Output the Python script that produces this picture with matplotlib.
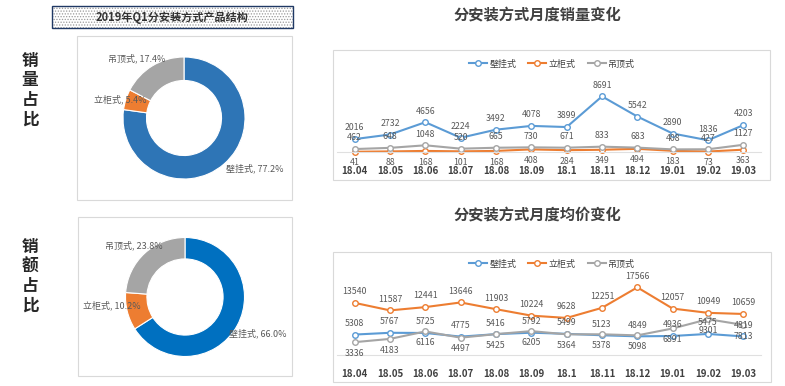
import numpy as np
import matplotlib
matplotlib.use("Agg")
import matplotlib.pyplot as plt
from matplotlib.patches import Rectangle

plt.rcParams['font.family'] = ['Noto Sans CJK SC', 'DejaVu Sans']
plt.rcParams['hatch.linewidth'] = 0.6

# ---------------- data ----------------
months = ["18.04", "18.05", "18.06", "18.07", "18.08", "18.09",
          "18.1", "18.11", "18.12", "19.01", "19.02", "19.03"]
series_names = ["壁挂式", "立柜式", "吊顶式"]

share_volume = [77.2, 5.4, 17.4]
share_amount = [66.0, 10.2, 23.8]

vol_wall = [2016, 2732, 4656, 2224, 3492, 4078, 3899, 8691, 5542, 2890, 1836, 4203]
vol_cab = [41, 88, 168, 101, 168, 408, 284, 349, 494, 183, 73, 363]
vol_ceil = [462, 648, 1048, 520, 665, 730, 671, 833, 683, 408, 427, 1127]

price_wall = [5308, 5767, 5725, 4775, 5416, 5792, 5499, 5123, 4849, 4936, 5475, 4819]
price_cab = [13540, 11587, 12441, 13646, 11903, 10224, 9628, 12251, 17566, 12057, 10949, 10659]
price_ceil = [3336, 4183, 6116, 4497, 5425, 6205, 5364, 5378, 5098, 6891, 9301, 7813]

W, H = 785, 386
fig = plt.figure(figsize=(W / 100, H / 100), dpi=100)
fig.patch.set_facecolor("white")


def px_rect(l, t, r, b):
    return [l / W, 1 - b / H, (r - l) / W, (b - t) / H]


def box(l, t, r, b, ec="#D9D9D9", lw=0.8, **kw):
    rect = Rectangle((l / W, 1 - b / H), (r - l) / W, (b - t) / H,
                     transform=fig.transFigure, fill=False, ec=ec, lw=lw, **kw)
    fig.add_artist(rect)
    return rect


# ---------------- left side ----------------
# title box with dotted fill
fig.add_artist(Rectangle((52 / W, 1 - 28 / H), 241 / W, 22 / H, transform=fig.transFigure,
                         fc="white", ec="#9A9A9A", lw=0, hatch="......"))
box(52, 6, 293, 28, ec="#1F3864", lw=1.0)
fig.text(172.5 / W, 1 - 17 / H, "2019年Q1分安装方式产品结构", ha="center", va="center",
         fontsize=8, fontweight="bold", color="#333333")

for ch_i, ch in enumerate("销量占比"):
    fig.text(30 / W, 1 - (61 + ch_i * 19.5) / H, ch, ha="center", va="center",
             fontsize=12, fontweight="bold", color="#262626")
for ch_i, ch in enumerate("销额占比"):
    fig.text(30 / W, 1 - (247 + ch_i * 19.5) / H, ch, ha="center", va="center",
             fontsize=12, fontweight="bold", color="#262626")

box(77, 36, 292, 200)
box(78, 217, 292, 376)


def donut(cx, cy, R, shares, colors, width, label_pos):
    ax = fig.add_axes(px_rect(cx - R, cy - R, cx + R, cy + R))
    ax.pie(shares, colors=colors, startangle=90, counterclock=False, radius=1,
           wedgeprops=dict(width=width, edgecolor="white", linewidth=0.8))
    ax.set_xlim(-1, 1)
    ax.set_ylim(-1, 1)
    ax.set_aspect("equal")
    ax.axis("off")
    for name, val, (x, y, ha) in zip(series_names, shares, label_pos):
        ax.text(x, y, "%s, %.1f%%" % (name, val), ha=ha, va="center",
                fontsize=6.5, color="#595959", clip_on=False)


donut(184, 118, 61, share_volume, ["#2E75B6", "#ED7D31", "#A5A5A5"], 0.385,
      [(0.69, -0.82, "left"), (-0.62, 0.31, "right"), (-0.31, 0.97, "right")])
donut(185, 297, 59.5, share_amount, ["#0070C0", "#ED7D31", "#A5A5A5"], 0.36,
      [(0.74, -0.61, "left"), (-0.74, -0.15, "right"), (-0.37, 0.86, "right")])

# ---------------- right side ----------------
line_colors = ["#5B9BD5", "#ED7D31", "#A5A5A5"]


def line_chart(top, bottom, ymax, data, label_dirs, title_y, legend_y, frame, title):
    fig.text(537 / W, 1 - title_y / H, title, ha="center", va="center",
             fontsize=11, fontweight="bold", color="#404040")
    box(*frame)
    ax = fig.add_axes(px_rect(337, top, 761, bottom))
    x = np.arange(len(months))
    for vals, col, name, d in zip(data, line_colors, series_names, label_dirs):
        ax.plot(x, vals, color=col, lw=1.5, marker="o", ms=4, mfc="white",
                mec=col, mew=1.0, label=name, clip_on=False)
        for xi, v in zip(x, vals):
            ax.annotate(str(v), (xi, v), xytext=(0, 8 * d), textcoords="offset points",
                        ha="center", va="center", fontsize=6.3, color="#595959",
                        annotation_clip=False)
    ax.set_xlim(-0.5, 11.5)
    ax.set_ylim(0, ymax)
    ax.set_yticks([])
    ax.set_xticks(x)
    ax.set_xticklabels(months, fontsize=7, fontweight="bold", color="#404040")
    ax.tick_params(axis="x", length=0, pad=10)
    for s in ["top", "left", "right"]:
        ax.spines[s].set_visible(False)
    ax.spines["bottom"].set_color("#E0E0E0")
    ax.patch.set_alpha(0)
    ax.legend(loc="center", bbox_to_anchor=(552 / W, 1 - legend_y / H),
              bbox_transform=fig.transFigure, ncol=3, frameon=False, fontsize=6.5,
              handlelength=2.0, columnspacing=1.3, handletextpad=0.3, labelcolor="#404040")


line_chart(88, 152, 10000, [vol_wall, vol_cab, vol_ceil], [1, -1, 1], 15, 64,
           (333, 50, 770, 180), "分安装方式月度销量变化")
line_chart(278, 355, 20000, [price_wall, price_cab, price_ceil], [1, 1, -1], 215, 264,
           (333, 252, 771, 382), "分安装方式月度均价变化")

fig.savefig("out.png", dpi=100)
